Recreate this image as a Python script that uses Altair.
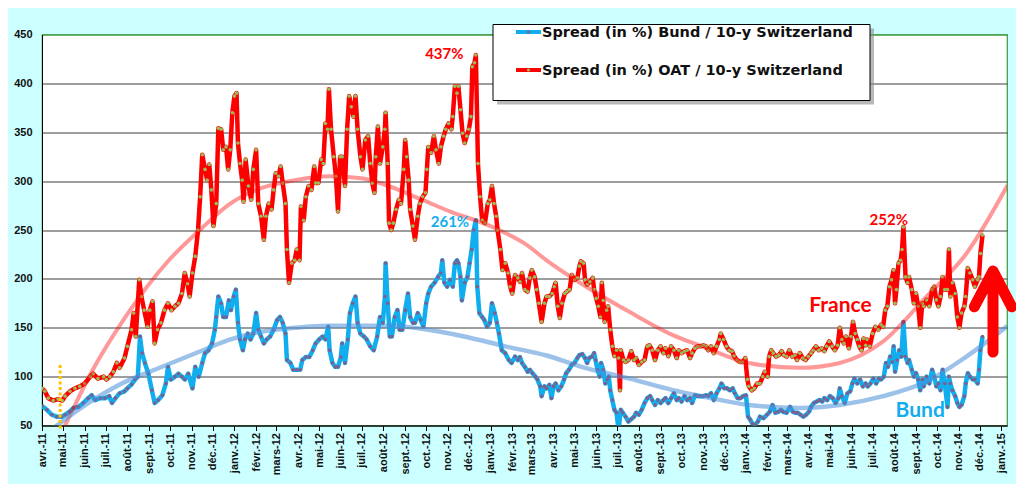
import altair as alt
import pandas as pd

# ---------------- data (day offset from 1 April 2011, value) ----------------
START = pd.Timestamp("2011-04-01")

OAT = [
    (0, 88), (4, 85), (9, 78), (16, 75.5), (23, 77), (29, 75.5), (33, 80), (40, 85), (47, 88), (54, 90),
    (61, 93), (69, 100), (73, 103), (80, 98), (88, 100), (92, 97), (97, 100), (102, 105), (107, 114),
    (111, 109), (118, 119), (122, 131), (128, 148), (131, 165), (134, 141), (139, 199), (142, 182),
    (146, 168), (151, 151), (154, 168), (158, 177), (161, 134), (165, 148), (170, 155), (175, 168),
    (180, 175), (185, 168), (190, 172), (195, 175), (200, 185), (204, 206), (208, 195), (211, 182),
    (215, 206),
    (219, 223), (223, 250), (226, 284), (229, 327), (233, 312), (236, 301), (239, 317), (242, 291),
    (245, 254), (249, 277), (252, 354), (256, 353), (259, 332), (263, 335), (266, 312), (269, 332),
    (272, 370), (275, 387), (278, 390), (280, 339), (283, 318), (286, 301), (288, 279), (291, 322),
    (295, 295), (299, 281), (302, 312), (306, 332), (309, 277), (313, 264), (317, 240), (320, 264),
    (324, 277), (328, 271), (331, 291), (334, 308), (338, 305), (341, 315), (344, 298), (348, 277),
    (350, 230), (353, 196), (357, 216), (361, 219), (364, 230), (368, 219), (370, 274), (374, 260),
    (377, 284), (381, 295), (385, 291), (389, 315), (391, 298), (395, 298), (399, 322), (402, 318),
    (405, 359), (408, 353), (410, 394), (413, 353), (417, 325), (420, 305), (423, 269), (426, 325),
    (429, 325), (433, 295), (436, 353), (439, 387), (442, 376), (445, 366),
    (448, 387), (451, 353), (455, 325), (458, 312), (462, 342), (466, 346), (469, 318), (472, 298),
    (475, 288), (477, 325), (480, 356), (483, 318), (487, 335), (490, 353), (491, 370), (494, 318),
    (496, 257), (499, 250), (502, 257), (506, 271), (510, 281), (513, 277), (517, 312), (519, 342),
    (521, 325), (524, 301), (526, 271), (530, 254), (533, 240), (537, 264), (540, 277), (544, 284),
    (548, 288), (550, 312), (552, 335), (556, 329), (560, 346), (563, 332), (567, 318), (570, 335),
    (574, 346), (577, 353), (581, 359), (585, 353), (587, 366), (590, 397), (593, 390), (595, 397),
    (598, 373), (601, 349), (604, 339), (607, 346), (610, 353), (613, 366), (615, 417), (618, 421),
    (620, 429), (623, 318), (626, 284), (629, 260), (633, 257), (637, 277), (640, 281), (643, 295),
    (646, 277), (649, 264), (651, 250), (655, 230), (658, 209), (662, 216), (666, 206), (669, 192),
    (672, 185),
    (676, 204), (680, 201), (683, 197), (686, 206), (690, 189), (694, 187), (697, 201), (700, 209),
    (704, 202), (707, 189), (710, 175), (714, 156), (718, 175), (721, 182), (725, 182), (729, 185),
    (732, 192), (734, 196), (737, 172), (740, 160), (743, 175), (747, 185), (750, 187), (754, 189),
    (757, 204), (761, 199), (765, 201), (768, 213), (770, 218), (774, 216), (776, 199), (779, 194),
    (783, 197), (787, 201), (789, 189), (792, 180), (795, 172), (798, 161), (800, 196), (802, 178),
    (804, 156), (807, 168), (809, 172), (812, 148), (815, 131), (818, 121), (821, 127), (824, 119),
    (826, 86), (827, 127), (831, 117), (834, 115), (838, 117), (842, 126), (846, 117), (849, 119),
    (853, 112), (857, 115), (861, 117), (865, 131), (868, 132), (872, 127), (876, 117), (880, 127),
    (884, 131), (888, 124), (891, 129), (895, 121), (899, 131), (903, 127), (907, 119), (910, 127),
    (914, 124), (918, 126), (922, 127), (926, 119), (929, 124), (933, 129), (937, 131), (941, 131),
    (945, 132), (949, 131), (952, 127), (956, 131), (960, 124), (964, 131), (968, 138), (970, 144),
    (974, 138), (978, 131), (982, 127), (986, 126), (989, 121), (993, 117), (997, 115), (1001, 115),
    (1005, 119), (1008, 97), (1010, 90), (1014, 86), (1018, 88), (1022, 93),
    (1026, 93), (1030, 100), (1033, 105), (1037, 100), (1039, 120.5), (1042, 127), (1045, 124),
    (1049, 120.5), (1053, 122), (1057, 126), (1060, 122), (1064, 120.5), (1068, 127), (1072, 120.5),
    (1076, 122), (1079, 117), (1083, 124), (1087, 119), (1091, 117), (1095, 120.5), (1099, 124),
    (1102, 127), (1106, 131), (1110, 127), (1114, 129), (1118, 126), (1121, 131), (1125, 136),
    (1129, 131), (1133, 127), (1137, 132), (1140, 150), (1143, 138), (1146, 134), (1149, 141),
    (1153, 129), (1156, 141), (1159, 156), (1162, 144), (1165, 138), (1168, 131), (1171, 127),
    (1174, 139), (1177, 132), (1179, 138), (1183, 131), (1187, 144), (1191, 151), (1195, 148),
    (1199, 153), (1202, 151), (1205, 168), (1208, 172), (1211, 192), (1214, 199), (1217, 209),
    (1219, 175), (1221, 189), (1224, 216), (1227, 219), (1229, 230), (1231, 253), (1234, 202),
    (1237, 196), (1239, 202), (1243, 189), (1246, 175), (1249, 185), (1252, 172), (1255, 150),
    (1258, 175), (1260, 172), (1264, 178.5), (1268, 172), (1272, 189), (1275, 192), (1278, 178.5),
    (1281, 172), (1284, 182), (1287, 202), (1290, 189), (1294, 189), (1296, 230), (1298, 182),
    (1301, 196), (1305, 185), (1308, 161), (1311, 150), (1314, 165), (1318, 172), (1320, 182),
    (1323, 211), (1326, 206), (1330, 199), (1333, 192), (1337, 199), (1339, 202), (1341, 226),
    (1344, 245),
]

BUND = [
    (0, 70), (7, 66), (14, 61), (21, 59), (28, 59), (33, 61), (39, 64), (45, 68), (52, 69), (59, 73),
    (66, 78), (71, 81), (76, 76), (83, 78), (90, 78), (96, 80), (100, 73), (105, 78), (111, 83),
    (118, 85), (122, 88), (128, 92), (133, 97), (137, 100), (140, 141), (143, 124), (147, 114),
    (152, 103), (157, 86), (161, 73), (166, 76), (172, 81), (177, 93), (180, 110), (184, 97),
    (190, 100), (195, 103), (200, 100), (204, 97), (209, 103), (215, 88),
    (219, 110), (224, 100), (229, 114), (233, 124), (238, 127), (243, 134), (247, 148), (249, 161),
    (252, 182), (256, 175), (259, 161), (263, 161), (267, 178), (270, 168), (274, 182), (277, 189),
    (280, 155), (283, 138), (287, 127), (290, 138), (294, 144), (298, 138), (302, 144), (306, 165),
    (309, 148), (313, 141), (317, 134), (321, 138), (326, 141), (331, 148), (336, 158), (340, 161),
    (344, 155), (348, 144), (350, 117), (355, 114), (359, 107), (364, 107), (369, 107), (372, 117),
    (377, 120), (382, 120), (387, 127), (391, 134), (396, 138), (401, 141), (405, 138), (409, 151),
    (411, 127), (415, 114), (419, 110), (423, 110), (427, 120), (429, 134), (433, 114), (437, 138),
    (440, 165), (444, 175),
    (448, 182), (451, 155), (455, 144), (460, 141), (464, 138), (469, 131), (474, 127), (479, 141),
    (483, 161), (487, 155), (490, 182), (491, 216), (494, 175), (497, 141), (500, 141), (504, 161),
    (508, 168), (511, 148), (515, 148), (519, 168), (523, 185), (526, 161), (530, 155), (533, 155),
    (537, 165), (541, 158), (545, 151), (549, 175), (552, 185), (556, 192), (561, 196), (566, 202),
    (570, 206), (572, 219), (575, 196), (579, 192), (583, 199), (587, 192), (590, 216), (593, 219),
    (595, 216), (598, 202), (600, 178), (604, 196), (608, 202), (611, 216), (614, 230), (617, 250),
    (620, 260), (622, 192), (625, 165), (629, 161), (632, 158), (636, 151), (640, 155), (643, 175),
    (647, 165), (650, 155), (653, 144), (657, 127), (662, 124), (667, 117), (671, 114),
    (676, 120.5), (680, 117), (683, 120), (686, 114), (690, 110), (694, 105), (697, 107), (701, 103.5),
    (705, 100), (708, 97), (712, 90), (714, 80), (718, 90), (721, 88), (725, 91.6), (728, 78),
    (731, 90), (734, 93), (738, 86), (742, 90), (746, 97), (749, 103.5), (753, 107), (757, 112),
    (761, 114), (765, 119), (768, 122), (772, 123), (776, 119), (779, 114), (782, 119), (786, 120.5),
    (789, 124), (791, 117), (794, 107), (797, 100), (799, 114), (802, 107), (805, 93), (808, 97),
    (810, 100), (812, 86), (815, 76), (818, 66), (821, 63), (824, 45), (827, 66), (830, 63),
    (834, 59), (838, 54), (842, 56.5), (846, 59), (849, 63), (853, 61), (857, 66), (861, 73),
    (865, 78), (869, 80), (872, 76), (876, 71), (880, 76), (884, 73), (888, 76), (891, 78), (895, 73),
    (899, 78), (903, 83), (907, 76), (910, 78), (914, 74.5), (918, 80), (922, 76), (926, 78),
    (929, 73), (933, 81), (937, 80), (941, 80), (945, 80), (949, 81), (952, 80), (956, 83), (960, 76),
    (964, 83), (968, 88), (971, 93), (975, 88), (979, 88), (983, 86), (987, 88), (990, 83), (994, 78),
    (998, 78), (1002, 80), (1006, 81), (1009, 59), (1012, 56), (1015, 52), (1019, 51), (1023, 54),
    (1026, 59), (1031, 57.5), (1036, 61), (1040, 64), (1044, 71), (1048, 63), (1052, 64), (1056, 66),
    (1059, 64), (1064, 63), (1069, 69), (1073, 64), (1077, 63), (1080, 63), (1084, 61), (1088, 59),
    (1092, 61), (1096, 64), (1099, 69), (1103, 73), (1107, 74.5), (1111, 76), (1115, 74.5), (1118, 78),
    (1122, 76), (1126, 80), (1130, 78), (1134, 73), (1138, 78), (1140, 88), (1143, 80), (1147, 73),
    (1151, 83), (1155, 85), (1158, 93), (1161, 98), (1165, 93), (1169, 97), (1173, 90), (1177, 93),
    (1180, 90), (1184, 93), (1188, 98), (1192, 93), (1196, 98), (1199, 97), (1203, 100), (1206, 114),
    (1209, 110), (1212, 120.5), (1215, 115), (1217, 131), (1219, 105), (1222, 117), (1225, 127),
    (1228, 120.5), (1231, 156), (1234, 120.5), (1237, 114), (1239, 117), (1243, 107), (1246, 100),
    (1249, 103.5), (1252, 97), (1255, 86), (1258, 97), (1260, 90), (1264, 100), (1268, 93), (1272, 107),
    (1275, 100), (1278, 90), (1281, 93), (1284, 86), (1287, 107), (1290, 93), (1294, 69), (1296, 100),
    (1298, 93), (1301, 86), (1305, 80), (1308, 73), (1311, 69), (1314, 71), (1318, 80), (1320, 93),
    (1323, 103.5), (1326, 100), (1330, 97), (1333, 97), (1337, 93), (1339, 107), (1341, 127),
    (1344, 141),
]

OAT_TREND = [
    (20, 31), (33, 50), (71, 105), (121, 163), (180, 218), (230, 253), (267, 276), (314, 293),
    (362, 301), (409, 305), (457, 303), (495, 295), (543, 281), (590, 267), (619, 260), (662, 247),
    (690, 236), (721, 219), (771, 195), (840, 166), (900, 143), (943, 131), (1010, 114), (1083, 109),
    (1140, 114), (1202, 136), (1264, 182), (1321, 226), (1380, 296),
]

BUND_TREND = [
    (10, 44), (66, 73), (114, 93), (161, 107), (230, 127), (267, 137.5), (314, 146), (362, 150),
    (409, 152), (457, 152), (495, 152), (543, 149), (600, 141.6), (662, 131), (721, 121.6),
    (771, 110), (840, 98), (900, 86.5), (943, 80), (1010, 71), (1083, 68), (1140, 71), (1202, 80),
    (1264, 95), (1321, 120.5), (1380, 152),
]

MONTHS_FR = ["janv.", "févr.", "mars", "avr.", "mai", "juin", "juil.", "août",
             "sept.", "oct.", "nov.", "déc."]
Y_TICKS = [50, 100, 150, 200, 250, 300, 350, 400, 450]

LEGEND_BUND = "Spread (in %) Bund / 10-y Switzerland"
LEGEND_OAT = "Spread (in %) OAT / 10-y Switzerland"

# ---------------- helpers ----------------
def ms(day):
    return int((START + pd.Timedelta(days=day)).timestamp() * 1000)


def frame(pairs):
    return pd.DataFrame({"date": [ms(d) for d, _ in pairs], "value": [v for _, v in pairs]})


month_ticks = [int(t.timestamp() * 1000) for t in pd.date_range("2011-04-01", "2015-01-01", freq="MS")]

W, H = 965, 391
RED = "#ff0000"
BLUE = "#10aeee"
GREEN_BORDER = "#3a9a3a"
AXIS_FONT = "Liberation Sans"

label_expr = ("[" + ",".join("'" + m + "'" for m in MONTHS_FR) + "][utcmonth(datum.value)]"
              " + '-' + utcFormat(datum.value, '%y')")

x_axis = alt.Axis(
    values=month_ticks, labelExpr=label_expr, labelAngle=270, labelFont=AXIS_FONT,
    labelFontWeight="bold", labelFontSize=11, labelColor="#111111", tickColor="black",
    tickSize=5, labelPadding=2, domainColor="black", grid=False, title=None,
    labelOverlap=False, labelFlush=False, labelBound=False,
)
y_axis = alt.Axis(
    values=Y_TICKS, labelFont=AXIS_FONT, labelFontWeight="bold", labelFontSize=11,
    labelColor="#111111", ticks=False, labelPadding=10, domainColor="black", title=None,
    gridColor={"condition": {"test": "datum.value === 450", "value": GREEN_BORDER}, "value": "#3c3c3c"},
    gridWidth=1,
)

x_enc = alt.X("date:T", scale=alt.Scale(type="utc", domain=[ms(0), ms(1379)]), axis=x_axis)
y_enc = alt.Y("value:Q", scale=alt.Scale(domain=[50, 450], nice=False, zero=False), axis=y_axis)

oat_df = frame(OAT)
bund_df = frame(BUND)

bund_line = alt.Chart(bund_df).mark_line(color=BLUE, strokeWidth=4.5, clip=True, strokeJoin="round").encode(x=x_enc, y=y_enc)
bund_pts = alt.Chart(bund_df).mark_point(filled=True, size=13, color="#7d5f8f", opacity=1, clip=True).encode(x=x_enc, y=y_enc)
oat_line = alt.Chart(oat_df).mark_line(color=RED, strokeWidth=4.5, clip=True, strokeJoin="round").encode(x=x_enc, y=y_enc)
oat_pts = alt.Chart(oat_df).mark_point(filled=True, size=13, color="#9bbb59", opacity=1, clip=True).encode(x=x_enc, y=y_enc)

oat_trend = alt.Chart(frame(OAT_TREND)).mark_line(
    color=RED, opacity=0.4, strokeWidth=4, interpolate="monotone", clip=True
).encode(x=x_enc, y=y_enc)
bund_trend = alt.Chart(frame(BUND_TREND)).mark_line(
    color="#4a90d9", opacity=0.55, strokeWidth=4.5, interpolate="monotone", clip=True
).encode(x=x_enc, y=y_enc)

marker = alt.Chart(pd.DataFrame({"date": [ms(26)], "value": [112]})).mark_rule(
    color="#ffc000", strokeWidth=3, strokeDash=[3, 2.5]
).encode(x=x_enc, y=y_enc, y2=alt.value(H + 5))


def note(text, day, val, color, size):
    df = pd.DataFrame({"date": [ms(day)], "value": [val], "t": [text]})
    return alt.Chart(df).mark_text(
        font="Lato", fontWeight="bold", fontSize=size, color=color, align="center", baseline="alphabetic"
    ).encode(x=x_enc, y=y_enc, text="t:N")


notes = [
    note("437%", 575, 425, RED, 15),
    note("261%", 583, 253, BLUE, 15),
    note("252%", 1210, 255, RED, 15),
    note("France", 1141, 166, RED, 21),
    note("Bund", 1255, 58.7, BLUE, 21),
]

ARROW = "M-0.46,-0.12 L0,-1 L0.46,-0.12 M0,-0.92 L0,1"
arrow = alt.Chart(pd.DataFrame({"date": [ms(1359)], "value": [166.5]})).mark_point(
    shape=ARROW, size=6561, filled=False, stroke=RED, strokeWidth=11, strokeCap="round",
    strokeJoin="round", opacity=1
).encode(x=x_enc, y=y_enc)

one = pd.DataFrame({"k": [0]})
leg_shadow = alt.Chart(one).mark_rect(color="#8a8a8a", opacity=0.6).encode(
    x=alt.value(455), x2=alt.value(832), y=alt.value(-6), y2=alt.value(70))
leg_box = alt.Chart(one).mark_rect(fill="white", stroke="black", strokeWidth=1).encode(
    x=alt.value(451), x2=alt.value(828), y=alt.value(-10), y2=alt.value(66))
leg_sym1 = alt.Chart(one).mark_rule(color=BLUE, strokeWidth=4).encode(
    x=alt.value(474), x2=alt.value(499), y=alt.value(-2.5))
leg_sym2 = alt.Chart(one).mark_rule(color=RED, strokeWidth=4).encode(
    x=alt.value(474), x2=alt.value(499), y=alt.value(35.5))
leg_dot1 = alt.Chart(one).mark_point(filled=True, size=10, color="#7d5f8f", opacity=1).encode(
    x=alt.value(486.5), y=alt.value(-2.5))
leg_dot2 = alt.Chart(one).mark_point(filled=True, size=10, color="#9bbb59", opacity=1).encode(
    x=alt.value(486.5), y=alt.value(35.5))
leg_txt1 = alt.Chart(one).mark_text(
    align="left", baseline="alphabetic", font="DejaVu Sans", fontWeight="bold", fontSize=14.5, color="#111111"
).encode(x=alt.value(500), y=alt.value(2.5), text=alt.value(LEGEND_BUND))
leg_txt2 = alt.Chart(one).mark_text(
    align="left", baseline="alphabetic", font="DejaVu Sans", fontWeight="bold", fontSize=14.5, color="#111111"
).encode(x=alt.value(500), y=alt.value(40), text=alt.value(LEGEND_OAT))

chart = alt.layer(
    bund_line, bund_pts, oat_line, oat_pts, oat_trend, bund_trend, marker, *notes, arrow,
    leg_shadow, leg_box, leg_sym1, leg_sym2, leg_dot1, leg_dot2, leg_txt1, leg_txt2,
).properties(
    width=W, height=H, background="#ccffff",
    padding={"left": 34, "top": 26.5, "right": 9, "bottom": 58},
    autosize=alt.AutoSizeParams(type="none"),
).configure_view(fill="white", stroke=GREEN_BORDER, strokeWidth=1.2)

chart.save("out.html", embed_options={"renderer": "svg", "actions": False})
